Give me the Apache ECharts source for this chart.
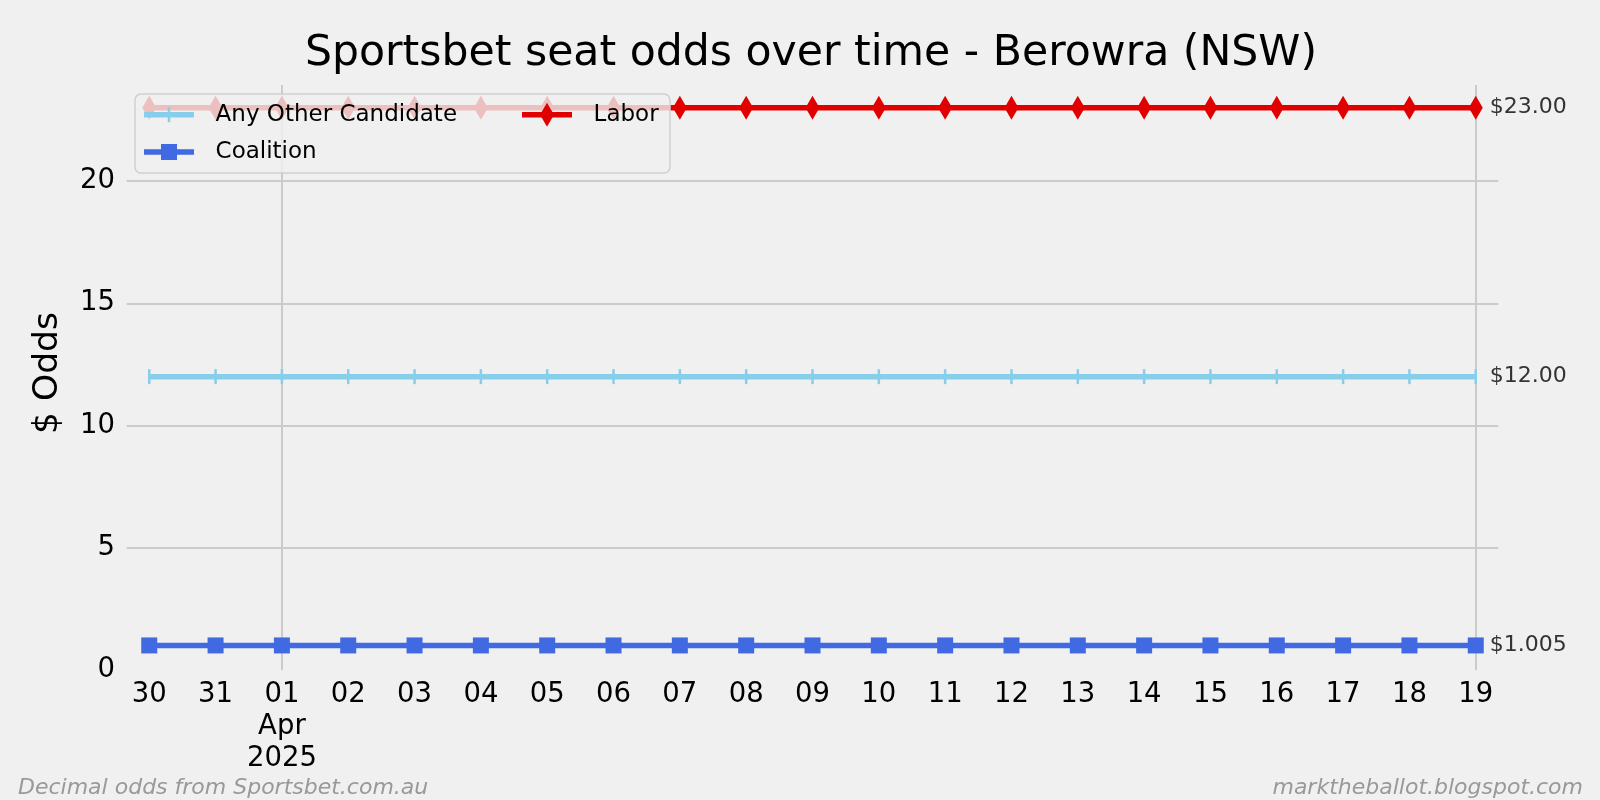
<!DOCTYPE html>
<html><head><meta charset="utf-8">
<script src="https://cdn.jsdelivr.net/npm/echarts@6/dist/echarts.min.js"></script>
<style>html,body{margin:0;padding:0;background:#f0f0f0}#c{width:1600px;height:800px}</style>
</head><body><div id="c"></div>
<script>
// ---- data ----
const dateLabels = ['30','31','01\nApr\n2025','02','03','04','05','06','07','08','09','10','11','12','13','14','15','16','17','18','19'];
const anyOtherOdds = [12,12,12,12,12,12,12,12,12,12,12,12,12,12,12,12,12,12,12,12,12];
const coalitionOdds = [1.005,1.005,1.005,1.005,1.005,1.005,1.005,1.005,1.005,1.005,1.005,1.005,1.005,1.005,1.005,1.005,1.005,1.005,1.005,1.005,1.005];
const laborOdds = [23,23,23,23,23,23,23,23,23,23,23,23,23,23,23,23,23,23,23,23,23];
const endLabelAnyOther = '$12.00';
const endLabelCoalition = '$1.005';
const endLabelLabor = '$23.00';
const yTickValues = [0,5,10,15,20];
const xGridDates = [2, 20];

const FONT = 'DejaVu Sans';
const COL_AOC = '#87ceeb', COL_COAL = '#4169e1', COL_LAB = '#e00000';
const toPairs = arr => arr.map((v,i)=>[i,v]);

const chart = echarts.init(document.getElementById('c'), null, {renderer:'canvas'});

function mkSeries(name, data, color, symbol, symbolSize, label){
  return {
    name, type:'line', data: toPairs(data), z:2,
    showAllSymbol:true, symbol, symbolSize,
    itemStyle:{color, opacity:1},
    lineStyle:{color, width:5.5},
    emphasis:{disabled:true},
    endLabel:{show:true, formatter: label, distance:14, fontFamily:FONT, fontSize:22, color:'#333'}
  };
}

const legendCommon = {
  orient:'vertical', top:102.7, padding:0,
  itemWidth:50, itemHeight:24, itemGap:13.3,
  itemStyle:{opacity:0}, lineStyle:{opacity:0},
  textStyle:{fontFamily:FONT, fontSize:23, color:'#000', lineHeight:24, padding:[0,0,0,15.6]}
};

// legend handle glyphs (drawn as graphics so they match the reference handles)
const r1 = 114.7, r2 = 152;
function handle(x0, y, color, marker){
  const cx = x0 + 25;
  const items = [{type:'line', z:5, silent:true, shape:{x1:x0, y1:y, x2:x0+50, y2:y}, style:{stroke:color, lineWidth:5.5}}];
  if (marker === 'vbar') items.push({type:'rect', z:6, silent:true, shape:{x:cx-1.25, y:y-7.5, width:2.5, height:15}, style:{fill:color}});
  if (marker === 'square') items.push({type:'rect', z:6, silent:true, shape:{x:cx-8, y:y-8, width:16, height:16}, style:{fill:color}});
  if (marker === 'diamond') items.push({type:'polygon', z:6, silent:true, shape:{points:[[cx,y-12],[cx+7,y],[cx,y+12],[cx-7,y]]}, style:{fill:color}});
  return items;
}

const option = {
  backgroundColor:'#f0f0f0',
  animation:false,
  textStyle:{fontFamily:FONT},
  grid:{left:126.7, right:101.7, top:85, bottom:130, containLabel:false},
  xAxis:{
    type:'value', min:-0.34, max:20.34,
    axisLine:{show:false}, axisTick:{show:false}, splitLine:{show:false},
    axisLabel:{
      customValues: dateLabels.map((d,i)=>i),
      formatter: v => dateLabels[Math.round(v)],
      fontFamily:FONT, fontSize:27.5, color:'#000', margin:9, lineHeight:32
    }
  },
  yAxis:{
    type:'value', min:0, max:23.93, interval:5,
    axisLine:{show:false}, axisTick:{show:false},
    axisLabel:{fontFamily:FONT, fontSize:27.5, color:'#000', margin:11.7, showMaxLabel:false,
      padding:[7,0,0,0],
      formatter: v => yTickValues.includes(v) ? String(v) : ''},
    splitLine:{show:true, showMinLine:false, showMaxLine:false, lineStyle:{color:'#cbcbcb', width:2}}
  },
  legend:[
    Object.assign({data:['Any Other Candidate','Coalition'], left:144}, legendCommon),
    Object.assign({data:['Labor'], left:522}, legendCommon)
  ],
  graphic:[
    {type:'rect', z:3, silent:true, shape:{x:135, y:94, width:535, height:79, r:6},
     style:{fill:'rgba(240,240,240,0.8)', stroke:'#cfcfcf', lineWidth:1.5}},
    ...handle(144, r1, COL_AOC, 'vbar'),
    ...handle(144, r2, COL_COAL, 'square'),
    ...handle(522, r1, COL_LAB, 'diamond'),
    {type:'text', z:5, x:811, y:54, style:{text:'Sportsbet seat odds over time - Berowra (NSW)',
     font:'42.6px "DejaVu Sans"', fill:'#000', textAlign:'center', textVerticalAlign:'middle'}},
    {type:'text', z:5, x:48, y:373, rotation:Math.PI/2, style:{text:'$ Odds',
     font:'34.6px "DejaVu Sans"', fill:'#000', textAlign:'center', textVerticalAlign:'middle'}},
    {type:'text', z:5, x:18, y:788, style:{text:'Decimal odds from Sportsbet.com.au',
     font:'italic 22px "DejaVu Sans"', fill:'#999', textAlign:'left', textVerticalAlign:'middle'}},
    {type:'text', z:5, x:1583, y:788, style:{text:'marktheballot.blogspot.com',
     font:'italic 22px "DejaVu Sans"', fill:'#999', textAlign:'right', textVerticalAlign:'middle'}}
  ],
  series:[
    {name:'_grid', type:'line', data:[], z:1, silent:true,
     markLine:{z:1, silent:true, symbol:'none', label:{show:false}, animation:false,
       lineStyle:{color:'#cbcbcb', width:2, type:'solid'},
       data: xGridDates.map(x=>({xAxis:x}))}},
    mkSeries('Any Other Candidate', anyOtherOdds, COL_AOC, 'rect', [2.5,15], endLabelAnyOther),
    mkSeries('Coalition', coalitionOdds, COL_COAL, 'rect', 16, endLabelCoalition),
    mkSeries('Labor', laborOdds, COL_LAB, 'diamond', [14,24], endLabelLabor)
  ]
};
chart.setOption(option);
</script></body></html>
